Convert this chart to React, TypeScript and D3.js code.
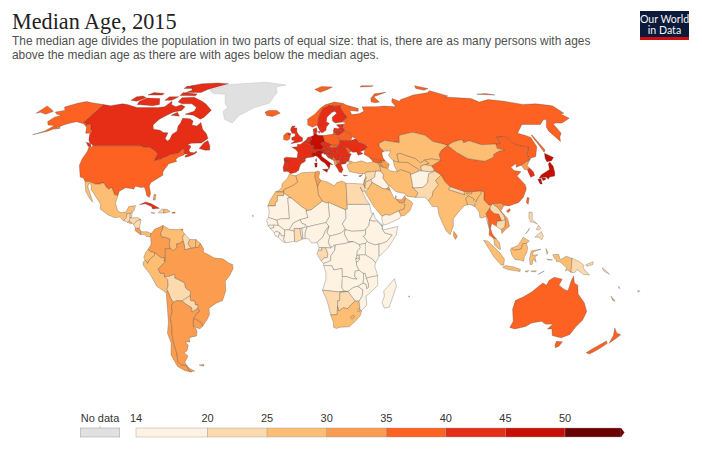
import * as React from 'react';
import * as d3 from 'd3';

// each entry: name, median age (null = no data), outline rings as "lon,lat lon,lat ..."
type Country = [string, number | null, string[]];

const northAmerica: Country[] = [
  ['Canada', 40.6, [
    '-141,69.6 -135,69 -128,70 -124,69.7 -115,68 -108,68 -100,68 -96,68.5 -94,71.5 -92,69.5 -88,68.5 -85,69.5 -81.5,68.5 -82,66.5 -87,65.5 -90,63.8 -93,62 -94.5,59 -92.5,57 -88,56.5 -85,55.3 -82,55.2 -82,52.5 -80,51.3 -79,52 -79,54.5 -77,56 -78,58.5 -77.5,60 -78,62.4 -73,62.2 -70,61 -69.5,59 -66,58.5 -64.5,60.3 -61.5,57 -58,54.8 -56,52.5 -59,50.3 -65,50.2 -67,49.5 -65,49 -64.5,48.5 -65,47 -64,46 -61.5,45.8 -60.5,46.5 -60,46 -61,45.2 -64,44 -66,43.7 -66,44.5 -64.5,45.3 -67,45.1 -67.8,47 -69,47.4 -70.5,45.5 -74.7,45 -76.5,44 -79,43.3 -79,42.8 -83,42 -82.5,45.3 -84.5,46.5 -88.5,48.2 -92,48.3 -95,49 -123,49 -123,49.3 -126,50.5 -128,52 -130,54.5 -130,55.8 -132,57 -135,59.5 -137.5,59 -139,60 -141,60.3',
    '-123.5,48.4 -125.5,48.8 -128.3,50.7 -125,50',
    '-59.3,47.7 -55.5,46.9 -52.8,47 -53.5,49 -55.6,51.5 -57.5,50.5',
    '-61.5,66.6 -64,63 -66,62 -72,64 -78,64.5 -73,66 -73,68 -78,70 -85,70 -89,71 -89,73.5 -80,73.7 -72,71.5 -68,70',
    '-117,69.7 -105,69 -101,69.7 -105,73 -115,73.3 -118,71.5',
    '-125,72 -120,71.5 -116,73.5 -120,74.5 -124,74',
    '-90,76.5 -78,76.5 -75,78.5 -65,81.5 -62,82.5 -72,83.1 -85,82.5 -92,81 -87,78',
    '-92,74.7 -80,74.6 -80,75.7 -92,76.5',
    '-117,75 -106,75 -106,76 -115,76.5',
    '-100,72 -95,72 -92,74 -99,74',
    '-95,79 -88,79 -90,81 -95,80.5',
    '-87,64 -81,63.5 -84,65.5',
  ]],
  ['United States', 37.6, [
    '-123,49 -95,49 -92,48.3 -88.5,48.2 -84.5,46.5 -82.5,45.3 -83,42 -79,42.8 -79,43.3 -76.5,44 -74.7,45 -70.5,45.5 -69,47.4 -67.8,47 -67,45.1 -67,44.7 -70,43.7 -70.8,42.5 -70,41.7 -74,40.7 -75.5,38 -76,36.9 -75.5,35.3 -78,33.9 -81,32 -81.5,30.5 -80,27 -80.3,25.2 -81.8,26 -82.8,28 -84,30 -85.5,29.7 -89,30.3 -89.5,29 -91,29.3 -94,29.6 -97,28 -97.2,26 -99.2,26.5 -101.5,29.8 -103,29 -104.7,30 -106.5,31.8 -108.2,31.8 -108.2,31.3 -111,31.3 -114.8,32.5 -117.1,32.5 -118.5,34 -120.6,34.5 -122,36.8 -124,40 -124.5,43 -124,46.3 -124.7,48.4 -123,48.2',
    '-141,69.6 -141,60.3 -139,60 -137.5,59 -135,59.5 -132,57 -130,55.8 -130,55 -133,55 -136,58 -140,59.7 -146,60.7 -149,60 -152,59 -154,58 -158,56 -163,54.7 -165,54.3 -160,56 -157.5,58.8 -162,59 -165,60.8 -164,63 -161,64 -165,64.5 -168,65.6 -163,66.5 -166.5,68.3 -161,70.3 -156.5,71.3 -150,70.5',
    '-155,57 -152,57.4 -153,58',
  ]],
  ['Mexico', 27.4, ['-117.1,32.5 -114.8,32.5 -111,31.3 -108.2,31.3 -108.2,31.8 -106.5,31.8 -104.7,30 -103,29 -101.5,29.8 -99.2,26.5 -97.2,26 -97.8,22.5 -96,19 -94,18.2 -91.5,18.6 -90.5,21 -87,21.5 -87.5,19 -88.3,18.5 -89,17.9 -91,17.8 -91,16 -92.2,14.5 -94.5,16.2 -97,15.9 -101,17.3 -105.5,20 -105.5,22 -109,25.6 -112.5,29 -113,31 -114.7,31.7 -114.5,30 -111,25 -110,23 -112,24.7 -115,28']],
  ['Guatemala', 21, ['-92.2,14.5 -91,16 -91,17.8 -89.2,17.8 -89,15.9 -88.3,15.7 -89.3,14.4 -90.2,13.8']],
  ['Belize', 23, ['-89.2,17.9 -88.3,18.4 -88.2,16 -89.2,15.9']],
  ['Honduras', 23, ['-89,15.9 -88,15.8 -85,16 -83.2,15 -84.8,14.8 -87,13 -87.8,13.4 -89.3,14.4']],
  ['El Salvador', 26, ['-90.2,13.8 -89.3,14.4 -87.8,13.4 -88.5,13.2']],
  ['Nicaragua', 24, ['-87,13 -84.8,14.8 -83.2,15 -83.7,11 -85.7,11.1']],
  ['Costa Rica', 31, ['-85.7,11.1 -83.7,11 -82.6,9.5 -83,8.2 -85.8,10']],
  ['Panama', 29, ['-83,8.2 -82.6,9.5 -79.5,9.5 -77.4,8.7 -77.9,7.2 -80,7.3 -80.5,8.2']],
  ['Cuba', 41, ['-85,21.9 -82,23.1 -79,22.4 -74.2,20.2 -77.7,19.9 -78.5,21 -82,22.3']],
  ['Haiti', 23, ['-74.4,18.4 -72.9,19.9 -71.7,19.8 -71.7,18.1 -74.4,18.1']],
  ['Dominican Republic', 26, ['-71.7,19.8 -69.9,19.7 -68.4,18.6 -70.5,18.2 -71.7,18']],
  ['Jamaica', 29, ['-78.3,18.4 -76.3,18.1 -77,17.8 -78.3,18.2']],
  ['Puerto Rico', 37, ['-67.2,18.4 -65.7,18.4 -65.7,18 -67.2,18']],
  ['Bahamas', 32, ['-78,26.5 -77,26.5 -77,24 -78,24']],
  ['Trinidad', 34, ['-61.9,10.7 -61,10.7 -61,10.1 -61.9,10.1']],
  ['Greenland', null, ['-73,78.2 -68,76 -58,75.5 -54,70 -51,68 -53,66 -50,62 -44,60 -41,64 -32,68 -22,70.5 -20,74 -18,76.5 -20,80 -12,81.5 -30,83.6 -50,82.5 -62,81.8']],
];

const southAmerica: Country[] = [
  ['Colombia', 30.5, ['-77.4,8.7 -75.6,10.7 -74,11.3 -71.5,12.4 -71.3,11 -72.5,9 -72,7.2 -70,7 -67.5,6.2 -67.8,3.7 -67.2,1.8 -69.8,1.7 -69.9,-4.2 -70.7,-3.8 -70,-2.5 -72,-2.4 -75.3,-0.1 -77.5,0.4 -78.8,1.4 -77.2,3.8 -77.5,6.5 -77.9,7.2']],
  ['Venezuela', 27.4, ['-71.5,12.4 -69.8,11.5 -68,10.6 -64,10.5 -62,10.7 -60,8.5 -61,7 -60.6,5.2 -62.8,4 -64,4 -63.7,2.3 -65.5,0.8 -67.2,1.8 -67.8,3.7 -67.5,6.2 -70,7 -72,7.2 -72.5,9 -71.3,11']],
  ['Guyana', 24.7, ['-60,8.5 -57.2,6 -58,4 -56.5,1.9 -59.8,1.3 -59.9,3 -60.6,5.2 -61,7']],
  ['Suriname', 29, ['-57.2,6 -54,5.9 -54.2,2.3 -56.5,1.9 -58,4']],
  ['French Guiana', 25.5, ['-54,5.9 -51.7,4.2 -52.7,2.3 -54.2,2.3']],
  ['Ecuador', 27, ['-78.8,1.4 -77.5,0.4 -75.3,-0.1 -75.5,-1.5 -78.3,-3.4 -79,-5 -80.3,-3.4 -81,-2.2 -80,0']],
  ['Peru', 27.5, ['-75.3,-0.1 -72,-2.4 -70,-2.5 -70.7,-3.8 -69.9,-4.2 -73,-7 -73.7,-7.5 -72.7,-9.5 -70.6,-9.5 -70.6,-11 -69,-12.5 -69,-15 -69.8,-17 -69.5,-17.6 -70.4,-18.4 -75,-15.5 -78,-10 -81.3,-6 -81.3,-4.3 -80.3,-3.4 -79,-5 -78.3,-3.4 -75.5,-1.5']],
  ['Brazil', 31.3, ['-51.7,4.2 -50,1.8 -50,0 -48,-0.7 -44.5,-2.5 -40,-2.9 -37,-4.8 -35,-5.5 -34.8,-7.5 -37,-11 -39,-13 -39,-17.5 -41,-22 -44.5,-23.2 -48.5,-25.5 -48.7,-28.5 -50.5,-31 -53.4,-33.8 -53.2,-32.7 -55.7,-30.9 -57.6,-30.2 -55,-27.5 -53.7,-26.9 -54.6,-25.6 -54.3,-24 -55.5,-24 -55.8,-22.3 -58,-22 -58,-19.8 -57.5,-18 -60,-16.3 -60.5,-13.8 -65.3,-11.7 -65.3,-10 -68.5,-11 -70.6,-11 -70.6,-9.5 -72.7,-9.5 -73.7,-7.5 -73,-7 -69.9,-4.2 -69.8,1.7 -67.2,1.8 -65.5,0.8 -63.7,2.3 -64,4 -62.8,4 -60.6,5.2 -59.9,3 -59.8,1.3 -56.5,1.9 -54.2,2.3 -52.7,2.3']],
  ['Bolivia', 24, ['-68.5,-11 -65.3,-10 -65.3,-11.7 -60.5,-13.8 -60,-16.3 -57.5,-18 -58,-19.8 -62.6,-22.2 -65,-22 -67.2,-22.8 -68.3,-21 -69.5,-17.6 -69.8,-17 -69,-15 -69,-12.5 -70.6,-11']],
  ['Paraguay', 24.5, ['-58,-19.8 -58,-22 -55.8,-22.3 -55.5,-24 -54.3,-24 -54.6,-25.6 -58,-27.3 -57.7,-25.3 -60,-24 -62.6,-22.2']],
  ['Uruguay', 34.8, ['-57.6,-30.2 -55.7,-30.9 -53.2,-32.7 -53.4,-33.8 -54.9,-34.9 -58.4,-34 -58.1,-32']],
  ['Chile', 33.8, ['-69.5,-17.6 -68.3,-21 -67.2,-22.8 -68.5,-24.5 -68.3,-27 -70,-30 -70.2,-34 -71,-37 -71.4,-40 -71.7,-43 -71.7,-46 -72.3,-48 -73,-50 -72,-51.5 -68.5,-52.3 -68.6,-54.9 -67,-55 -71,-54.5 -74.5,-52.5 -75.5,-47 -73,-41.5 -73.5,-37 -71.5,-32 -70.4,-18.4']],
  ['Argentina', 31, [
    '-65,-22 -62.6,-22.2 -60,-24 -57.7,-25.3 -58,-27.3 -54.6,-25.6 -53.7,-26.9 -55,-27.5 -57.6,-30.2 -58.1,-32 -58.4,-34 -57,-35 -57,-36.5 -57.7,-38.2 -62,-39 -62.3,-41 -65,-41 -63.7,-42.5 -65.3,-45 -67.5,-46 -65.8,-47.5 -69,-50.5 -68.5,-52.3 -72,-51.5 -73,-50 -72.3,-48 -71.7,-46 -71.7,-43 -71.4,-40 -71,-37 -70.2,-34 -70,-30 -68.3,-27 -68.5,-24.5 -67.2,-22.8',
    '-68.6,-52.7 -68.6,-54.9 -65.2,-54.7',
  ]],
  ['Falkland Islands', 33, ['-61,-51.8 -58,-51.5 -58.5,-52.3']],
];

const europe: Country[] = [
  ['Iceland', 36, ['-24,65.5 -22,66.4 -16,66.5 -13.5,65 -18.5,63.4 -22.5,63.9']],
  ['United Kingdom', 40, [
    '-5.5,50 -1,50.7 1.4,51.2 1.7,52.7 0,53.5 -1.5,55 -2,56 -2,57.6 -4,57.7 -3,58.6 -5,58.6 -6,56.8 -5,55 -3,54.9 -3,53.5 -5,53 -5,51.8 -3,51.4',
    '-7.3,55.2 -5.6,54.7 -6,54.1 -7.5,54.2',
  ]],
  ['Ireland', 36.8, ['-7.3,55.2 -8.5,55.1 -10,54 -10,52 -8,51.5 -6.2,52.2 -6,54.1 -7.5,54.2']],
  ['France', 41, ['2.5,51 4.2,50 6,49.5 8.2,49 7.6,47.6 6,46.4 7,45.8 7,44.2 7.5,43.8 4,43.4 3,43 3,42.5 -1.7,43.3 -1.2,46 -2.5,47.3 -4.8,48.3 -1.6,48.6 -1.5,49.7 0.2,49.6', '8.6,42.4 9.5,43 9.4,41.5']],
  ['Spain', 43, ['-1.7,43.3 3,42.5 3,41.8 0.5,40.5 -0.3,39 -0.7,37.7 -2.2,36.7 -5.3,36.1 -6.4,37 -7.4,37.2 -7,39 -7,41 -6.5,41.9 -9,41.9 -9.2,43.1 -8,43.7']],
  ['Portugal', 44, ['-7.4,37.2 -9,37 -9.5,38.8 -8.8,41 -8.8,41.9 -6.5,41.9 -7,41 -7,39']],
  ['Belgium', 41, ['2.5,51 3.4,51.4 6,50.8 6.2,49.6 4.2,50']],
  ['Netherlands', 42, ['3.4,51.4 4.7,53 7,53.4 7,52 6,50.8']],
  ['Germany', 46, ['6,50.8 7,52 7,53.4 8.5,54 8.5,55 10,54.8 11,54 14.2,53.9 14.7,52 15,51 12.2,50.2 13.8,48.7 13,47.5 10,47.4 7.6,47.6 8.2,49 6,49.5 6.2,49.6']],
  ['Denmark', 41.6, ['8.5,55 8.2,57 10.5,57.7 10.8,56 10,54.8', '11,55.7 12.5,56 12.3,55']],
  ['Switzerland', 42, ['6,46.4 7.6,47.6 9.6,47.5 10.4,46.7 9,45.9 7,45.8']],
  ['Austria', 43, ['9.6,47.5 13,47.5 13.8,48.7 15,49 17,48.6 16.3,46.9 13.7,46.5 10.4,46.7']],
  ['Italy', 45.9, [
    '7,45.8 9,45.9 10.4,46.7 13.7,46.5 13.7,45.6 12.3,45.3 12.5,44 16,41.8 18.5,40.2 17,40.4 16.6,39 16,38 15.8,39 14,41 12,42 10.2,43.9 8.8,44.4 7.5,43.8 7,44.2',
    '12.5,38 15.6,38.2 15,36.7',
    '8.3,41 9.7,41 9.5,39.1 8.5,39',
  ]],
  ['Czech Republic', 41.5, ['12.2,50.2 15,51 18.8,49.6 17,48.6 15,49 13.8,48.7']],
  ['Slovakia', 39, ['17,48.6 18.8,49.6 22.5,49.1 22.2,48.4 18.8,47.8']],
  ['Poland', 39.6, ['14.2,53.9 19,54.4 23,54.4 23.9,52.2 24,50.6 22.7,49.2 18.8,49.6 15,51 14.7,52']],
  ['Hungary', 41, ['16.3,46.9 17,48.6 18.8,47.8 22.2,48.4 22.9,48 21,46.2 18.8,45.9 16.6,46.5']],
  ['Slovenia', 43, ['13.7,46.5 16.3,46.9 16.6,46.5 15.5,45.7 13.7,45.5']],
  ['Croatia', 43, ['13.7,45.5 15.5,45.7 16.6,46.5 18.8,45.9 19,45 16,45.2 15.8,44.5 18.5,42.5 16,43.5 14.8,45 14,45']],
  ['Bosnia', 41.5, ['16,45.2 19,45 19.4,44 18.5,42.7 15.8,44.5']],
  ['Serbia', 40.6, ['18.8,45.9 21,46.2 22.5,44.5 22.4,42.3 20.5,42.3 19.4,43.5 19.4,44 19,45']],
  ['Montenegro', 38, ['18.5,42.7 19.4,43.5 20.3,42.7 19.3,41.9']],
  ['Albania', 34.3, ['19.3,41.9 20.3,42.7 20.6,41 21,40 19.9,39.7 19.4,40.5']],
  ['Macedonia', 37.5, ['20.5,42.3 22.4,42.3 23,41.3 20.9,41']],
  ['Greece', 44, ['20,39.6 21,40.8 23,41.3 26.3,41.7 26,40.8 23,40.3 24,38 23,36.5 21.7,36.8 21,38.3', '23.6,35.5 26.2,35.2 24.5,35']],
  ['Bulgaria', 43.5, ['22.4,42.3 22.5,44.2 25,43.7 28.5,43.7 27.8,42 26.3,41.7 23,41.3']],
  ['Romania', 41.7, ['21,46.2 22.9,48 25,47.9 26.7,48.3 28.2,45.6 29.7,45.2 28.5,43.7 25,43.7 22.5,44.2']],
  ['Moldova', 35.8, ['26.7,48.3 28,48.2 30,46.5 28.2,45.6']],
  ['Ukraine', 40.3, ['22.7,49.2 22.2,48.4 22.9,48 25,47.9 26.7,48.3 28,48.2 30,46.5 30.7,46 33,46.1 33.5,44.6 36.5,45.3 35,46.2 38,47.1 40,48.5 38,50 35.5,50.5 34,52.3 30.7,51.5 24,51.6 24,50.6']],
  ['Belarus', 39.6, ['24,51.6 30.7,51.5 32,53.3 31,55 28,56.1 26.5,55.5 23.5,53.9 23.9,52.2']],
  ['Lithuania', 42.7, ['21,55.3 21,56.4 25,56.3 26.5,55.5 23.5,53.9 23,54.4']],
  ['Latvia', 42, ['21,56.4 21.7,57.6 24.4,57.2 25,58 27.7,57.5 28,56.1 26.5,55.5 25,56.3']],
  ['Estonia', 41.7, ['23.5,59.2 28,59.4 27.4,57.6 25,58 24.4,58.2']],
  ['Norway', 39, ['5,59 5,62 10,64.5 14,67.5 18,69.5 25,71 31,70.3 29,69 25,68.7 20.5,69 16,67.5 14,65 12,62 12,60.5 11,59 8,58', '12,78.5 16,76.7 22,78.3 27,80 18,80.3']],
  ['Sweden', 41, ['11,59 12,60.5 12,62 14,65 16,67.5 20.5,69 23.7,67.9 24,66 22,65.5 18,63 17.2,60.7 19,59.8 16.7,58 16.4,56.5 14.2,55.4 13,55.4 11.5,58']],
  ['Finland', 42.5, ['20.5,69 25,68.7 29,69 28.5,68 30,65 31.5,62.9 27.5,60.5 23,60 21.3,61 21.5,63 25,65 24,66 23.7,67.9']],
  ['Russia', 38.7, [
    '31,70.3 33,69.4 41,67.5 40,66 34.5,66.5 35,64.3 40,64.7 44,66 44,68.4 54,68.5 60,68.8 68,68.5 67,71 69,73 73,71.5 75,72.5 80,73.5 87,75 100,76.4 104,77.7 113,74.5 110,73.9 128,73 131,71 140,72.5 150,71.5 160,69.7 170,70 178,69.2 180,68.9 180,65 177,64.7 179,62.5 170,60 166,60 163.5,59.5 163,57.5 162,55 159,53.2 156.7,51 155.7,56 157,58 163,62 160,61.5 155,59.3 143,59.3 135,55 138.5,54 141,53 140,48.5 135.5,44 132,43.2 130.7,42.3 130.7,43 131.3,45 135,48.5 130.6,48.9 127.5,50 126,53 120.5,53.3 119.7,50 116.7,49.8 108,49.5 102,51.4 98,50.4 98,52 92,50.8 87.8,49.2 85,50 80,51 77,54 71,55.3 69,55.3 61,54 59.5,50.5 55,51 51,51.5 47,50 47,48.3 49,46.5 47.5,45.7 47.5,43.5 48.5,41.8 46,42 40,43.4 37,45 38,47.1 40,48.5 38,50 35.5,50.5 34,52.3 32,53.3 31,55 28,56.1 27.7,57.5 28,59.4 30,60 27.8,60.5 31.5,62.9 30,65 28.5,68 29,69',
    '-180,68.9 -175,67.5 -170,66 -172.5,64.5 -178,65.5 -180,65',
    '20,54.4 23,54.4 21,55.3',
    '52,71 55,70.7 58,71 56,74 68,76.8 58,75.8 53,73',
    '142,46 143.5,47 143,50 143,54 142.3,54 142,50',
    '95,79 100,78 105,79 97,81',
    '137,75.5 150,75 145,76',
    '50,80 60,80.3 62,81 52,81',
  ]],
  ['Cyprus', 36, ['32.3,35 34.6,35.7 33,34.6']],
];

const asia: Country[] = [
  ['Georgia', 37, ['40,43.4 46,42 46.5,41.1 43.5,41.1 41.5,41.5']],
  ['Armenia', 33, ['43.5,41.1 45,41.2 46.5,39 44.8,39.7']],
  ['Azerbaijan', 30.9, ['46,42 48.5,41.8 50.3,40.4 49,38.4 46.5,39 45,41.2 46.5,41.1']],
  ['Turkey', 29.8, ['26.3,41.7 28,42 31,41.2 35,42 38,41 41.5,41.5 43.5,41.1 44.8,39.7 44.8,37.2 42,37.2 36.7,36.8 36,36.2 33,36.1 30.5,36.5 27.5,37 26.3,39.5 26.7,40.4 29,41']],
  ['Syria', 20.5, ['36,36.2 36.7,36.8 42,37.2 41,34.5 38.8,33.4 36.5,32.4 35.8,33.3 36,34.6']],
  ['Lebanon', 28, ['35.1,33.1 35.8,33.3 36.5,34.5 36,34.6']],
  ['Israel', 30, ['34.3,31.3 35,29.5 35.5,31.5 35.6,33.2 35.1,33.1']],
  ['Jordan', 22, ['35,29.5 36.9,29.2 39,32 38.8,33.4 36.5,32.4 35.5,32.4 35.5,31.5']],
  ['Iraq', 19.5, ['42,37.2 44.8,37.2 46,35.8 45.5,34 48,30.5 48,30 46.5,29.1 44.7,29.2 39.2,32.1 38.8,33.4 41,34.5']],
  ['Iran', 29.5, ['44.8,39.7 46.5,39 49,38.4 50,37.4 54,37 56,38 61,36.5 61,31.5 60.8,29.8 63.3,27.2 61.6,25.2 57,25.8 56,27 51.5,27.8 48.8,30.3 48,30.5 45.5,34 46,35.8 44.8,37.2']],
  ['Saudi Arabia', 28, ['36.9,29.2 34.6,28 39,21 43,16.5 45,17.4 47,17 52,19 55,20 55.6,22 52.6,22.9 51.3,24.6 50,25 48.5,28.5 46.5,29.1 44.7,29.2 39.2,32.1']],
  ['Kuwait', 33, ['46.5,29.1 48.5,28.5 48,30']],
  ['Qatar', 31, ['50.8,24.8 51.5,25.5 51,26.1']],
  ['United Arab Emirates', 33, ['51.3,24.3 54,24.1 56,26 56.3,24.9 55.2,22.7 52.6,22.9']],
  ['Oman', 29, ['55.2,22.7 56.3,24.9 58.7,23.6 59.8,22.5 57.8,19 55,17 53,16.7 52,19 55,20 55.6,22']],
  ['Yemen', 19, ['43,16.5 42.8,15 43.5,12.7 45,12.8 52,15.5 53,16.7 52,19 47,17 45,17.4']],
  ['Kazakhstan', 29.3, ['47,50 51,51.5 55,51 59.5,50.5 61,54 69,55.3 71,55.3 77,54 80,51 85,50 87.8,49.2 83,47 80.5,45 80.2,42.2 75,42.9 71,42.3 68,41 66,43 61,44.4 58,45.5 56,45 56,41.3 53,42 51,44.5 53,46.6 49,46.5 47,48.3']],
  ['Uzbekistan', 25.5, ['56,45 58,45.5 61,44.4 66,43 68,41 71,42.3 73,40.8 70.5,40.2 67.7,39.5 67.5,37.3 64.5,39 61,41.2 56,41.3']],
  ['Turkmenistan', 25.6, ['53,42 56,41.3 61,41.2 64.5,39 66.5,37.4 61,35.6 61,36.5 56,38 54,37 53,39.5']],
  ['Kyrgyzstan', 25.2, ['71,42.3 75,42.9 80.2,42.2 74,39.6 70.5,40.2 73,40.8']],
  ['Tajikistan', 22, ['67.7,39.5 70.5,40.2 74,39.6 75,37.3 71.5,37 67.5,37.3']],
  ['Afghanistan', 17.5, ['61,35.6 66.5,37.4 67.5,37.3 71.5,37 75,37.3 71,36 70,33.5 69.3,31.8 66.3,29.8 61,29.5 60.8,29.8 61,31.5']],
  ['Pakistan', 22, ['61.6,25.2 63.3,27.2 60.8,29.8 61,29.5 66.3,29.8 69.3,31.8 70,33.5 71,36 75,37.3 77.8,35.5 74,33 75,31 71.5,28 70.5,25.7 68.2,23.7 66.5,25.3']],
  ['India', 26.6, ['68.2,23.7 70.5,25.7 71.5,28 75,31 74,33 77.8,35.5 79,32.5 81,30.2 80,28.8 88,26.5 88,28 92,27.8 97.3,28.3 97,27 94.7,25 93.3,23 92.5,24.5 89.8,26 88.2,24.5 88.9,21.8 87,21.4 84,19 80.3,15.5 80,12 78,8.1 76,10 73,17 72.7,21 70,21 69,22.4']],
  ['Nepal', 23, ['80,28.8 81,30.2 88,28 88,26.5']],
  ['Bhutan', 26, ['89,27.3 92,27.8 92,26.9 89,26.8']],
  ['Bangladesh', 25.6, ['88.2,24.5 89.8,26 92.5,24.5 92.4,21 90,22 88.9,21.8']],
  ['Sri Lanka', 32, ['80,9.7 81.8,7.5 80.7,6 79.8,7.5']],
  ['China', 37, [
    '74,39.6 80.2,42.2 80.5,45 83,47 87.8,49.2 91,46 96,43 105,41.8 111,43.7 112,45 116,46.5 119.7,47 116,47.8 116.7,49.8 119.7,50 120.5,53.3 126,53 127.5,50 130.6,48.9 135,48.5 131.3,45 130.7,43 130.7,42.3 128,41.5 124.4,40 121,39 122,40.8 118,39 119,37.5 122.5,37 119.3,35 122,31 121.8,29 119,25.3 116,22.9 110.5,21.3 108,21.6 106.6,22.5 102,22.4 101.2,21.5 99.5,22 97.7,24 98.7,27.5 97.3,28.3 92,27.8 88,28 81,30.2 79,32.5 77.8,35.5 75,37.3',
    '108.7,19 110.5,20 111,19.5 109.5,18.2',
  ]],
  ['Mongolia', 27.5, ['87.8,49.2 92,50.8 98,52 98,50.4 102,51.4 108,49.5 116.7,49.8 116,47.8 119.7,47 116,46.5 112,45 111,43.7 105,41.8 96,43 91,46']],
  ['North Korea', 33.9, ['124.4,40 128,41.5 130.7,42.3 127.5,39.7 128.4,38.6 126.7,37.9 125,38']],
  ['South Korea', 40.8, ['126.7,37.9 128.4,38.6 129.4,37 129,35.2 126.5,34.4 126.5,37']],
  ['Japan', 46.5, [
    '130.9,34 133,35.6 136.5,37 139,38 140,40.5 141.5,41.4 142,39.5 141,36.5 140,35 137,34.6 135.8,33.5 135,34.6',
    '130,33.5 131.8,33.8 131.4,31.4 130.2,31.3',
    '132.3,34 134.6,34.2 134,33.3 132.5,32.9',
    '140,41.6 140.3,43.3 141.8,45.5 145.3,43.5 143,42',
  ]],
  ['Taiwan', 39, ['121,25.2 122,25 120.8,22 120.1,23']],
  ['Myanmar', 27, ['92.5,21 93.3,23 94.7,25 97,27 97.3,28.3 98.7,27.5 97.7,24 99.5,22 101.2,21.5 100.2,20.3 97.8,17.7 98.7,15 98.7,10.5 98,13.5 97.5,16.5 95.5,15.8 94.3,16 94.3,18.5']],
  ['Thailand', 38, ['100.2,20.3 100.5,19.5 102,18 104.5,17.5 105.5,14.5 103,14.3 102.5,12 101,12.8 100.2,13.4 99.3,11 100,8.5 102,6.2 100.5,6.5 98.3,8 98.7,10.5 98.7,15 97.8,17.7']],
  ['Laos', 22, ['101.2,21.5 102,22.4 104.5,20.5 107,17 107.5,15 105.5,14.5 104.5,17.5 102,18 100.5,19.5 100.2,20.3']],
  ['Vietnam', 30.4, ['102,22.4 106.6,22.5 108,21.6 105.8,19 108.8,15.5 109.3,12 107,10.5 105,8.7 104.8,10.5 106.8,11.7 107.5,15 107,17 104.5,20.5']],
  ['Cambodia', 24, ['103,14.3 105.5,14.5 107.5,15 106.8,11.7 104.8,10.5 102.7,11.7 102.5,12']],
  ['Malaysia', 28, ['100.5,6.5 102,6.2 103.4,4.5 104,1.4 103.3,1.5 101,3.3', '109.6,2 111.3,2.6 113,3.2 116,7 119,5.2 117.5,4.2 115.5,4 114.7,1.6 111,1']],
  ['Indonesia', 28, [
    '109,1 109.6,2 111,1 114.7,1.6 115.5,4 117.5,4.2 118,2 117.5,0 116.3,-2 116,-4 114.5,-3.5 111.5,-3.2 110,-1.5',
    '95.3,5.6 97.5,5.2 103.5,0 106,-3 105.8,-5.8 104.5,-5.8 100.5,-2',
    '105.2,-6.8 106.8,-6 111,-6.6 114.5,-7.7 114.4,-8.7 108,-7.8',
    '119.8,0.7 124.8,1.5 121,0.4 120.5,-1.2 123.3,-1 121.8,-2 122.5,-4.5 121,-3 120.4,-5.5 119.5,-5.5 119,-3',
    '124,-10 127,-8.4 125,-9.5',
    '120,-8.5 123,-8.4 122,-8.9',
    '117,-8.5 119,-8.3 118,-9',
    '127.5,1.8 128.5,0 128,-0.8',
    '128,-3 131,-3.4 129,-3.5',
    '131,-1 134,-0.8 135,-3.3 138,-1.7 141,-2.6 141,-9.1 139,-8 138,-8.4 138.5,-7 135,-4.4 132.8,-4 133,-3 132,-2.8',
  ]],
  ['Philippines', 24, [
    '120.5,18.5 122.2,18.4 121.5,15 124,13 122,13.8 120.5,14 120,16',
    '122,7 125.5,9.6 126.5,7.5 125.5,5.8 124,7',
    '117.2,8.4 119.5,11 119,10',
    '124.5,12.5 125.5,11 124.5,10.2 123,10.5',
  ]],
];

const africa: Country[] = [
  ['Morocco', 28, ['-5.9,35.8 -2.2,35.1 -1.7,33.5 -1.2,32.2 -3.7,30.7 -8.7,28.7 -8.7,27.7 -13.2,27.7 -11.5,28.3 -9.8,29.8 -9.8,31.5 -7,33.8']],
  ['Western Sahara', 26, ['-13.2,27.7 -8.7,27.7 -8.7,26 -12,26 -12,23.4 -13,23 -13,21.3 -17,21.3 -16,23.7 -14.8,25.5']],
  ['Mauritania', 19.8, ['-17,21.3 -13,21.3 -13,23 -12,23.4 -12,26 -8.7,26 -8.7,27.3 -4.8,25 -6.5,25 -5.5,15.5 -10,15.4 -12.2,14.8 -16.5,16 -16.2,19']],
  ['Algeria', 27.7, ['-2.2,35.1 1,36.5 8.6,36.9 8.2,34.7 9.5,30 9.9,26.5 11.9,23.5 5.8,19.5 3.2,19 3.2,19.8 1.2,20.7 -4.8,25 -8.7,27.3 -8.7,28.7 -3.7,30.7 -1.2,32.2 -1.7,33.5']],
  ['Tunisia', 31, ['8.6,36.9 10,37.3 11,36.9 10.2,34.3 11.5,33 10.2,31.5 9.5,30 8.2,34.7']],
  ['Libya', 27.9, ['11.5,33 15,32.3 18.5,30.5 20,32 23,32.7 25,31.7 25,20 24,20 24,19.5 15,23 14,22.6 11.9,23.5 9.9,26.5 9.5,30 10.2,31.5']],
  ['Egypt', 24.7, ['25,31.7 31,31.5 34.3,31.3 35,29.5 34.3,28 33.5,28 32.5,30 35,24.5 36.9,22 25,22']],
  ['Sudan', 19.5, ['24,15.7 24,19.5 25,20 25,22 36.9,22 37.5,18 38.6,18 36.5,15 36,12.5 34.2,10.5 33,10 27,9.7 23.5,10.5 22.5,12.5 22,13']],
  ['South Sudan', 18.6, ['23.5,10.5 27,9.7 33,10 34.2,10.5 34,8 33,7.5 35,5 33.9,4.2 30.8,3.6 27.5,5 25,5 23,8.5']],
  ['Mali', 16.2, ['-12.2,14.8 -10,15.4 -5.5,15.5 -6.5,25 -4.8,25 1.2,20.7 3.2,19.8 3.2,19 4.2,16 0,15 -3.5,13.5 -5.5,10.4 -8,10.3 -11,12.2']],
  ['Niger', 14.8, ['0,15 4.2,16 3.2,19 5.8,19.5 11.9,23.5 14,22.6 15,23 15.5,16.5 13.6,13.7 9,12.8 3.7,11.7 3,12.7 1,13.3']],
  ['Chad', 16, ['15,23 24,19.5 24,15.7 22,13 22.5,12.5 23.5,10.5 21.5,9 18.8,8.2 15.5,7.5 14,9 15,12 13.6,13.7 15.5,16.5']],
  ['Senegal', 18, ['-17.5,14.7 -16.5,16 -12.2,14.8 -11.5,12.4 -16.7,12.4']],
  ['Guinea-Bissau', 19.4, ['-16.7,12.4 -13.7,12.6 -13.7,11.3 -15.5,11']],
  ['Guinea', 18.5, ['-13.7,12.6 -11.5,12.4 -11,12.2 -8,10.3 -8,7.7 -9.5,7.5 -10.5,9 -12.5,9.8 -13.3,9 -15.5,11 -13.7,11.3']],
  ['Sierra Leone', 18.4, ['-13.3,9 -12.5,9.8 -10.5,9 -11.3,7 -13,7.8']],
  ['Liberia', 18.6, ['-11.3,7 -10.5,9 -9.5,7.5 -8,7.7 -8.5,6 -7.5,4.4 -9.5,5.3']],
  ['Ivory Coast', 18.9, ['-8,10.3 -5.5,10.4 -3,9.8 -2.8,5.1 -7.5,4.4 -8.5,6 -8,7.7']],
  ['Burkina Faso', 17, ['-5.5,10.4 -3.5,13.5 0,15 1,13.3 3,12.7 2.3,11.5 0,11 -3,11 -3,9.8']],
  ['Ghana', 20.6, ['-3,11 0,11 0.5,8 1.2,6.1 -2,4.8 -2.8,5.1 -3,9.8']],
  ['Togo', 19, ['0,11 1,11 1.6,6.2 1.2,6.1 0.5,8']],
  ['Benin', 18.6, ['1,11 2.3,11.5 3.7,11.7 2.7,9 2.7,6.3 1.6,6.2']],
  ['Nigeria', 17.9, ['2.7,6.3 2.7,9 3.7,11.7 9,12.8 13.6,13.7 15,12 13.3,10 11.8,7 8.8,4.6 6,4.3 4.5,6.3']],
  ['Cameroon', 18.4, ['8.8,4.6 11.8,7 13.3,10 15,12 14,9 15.5,7.5 14.7,4.6 16,2 14,2.2 9.9,2.2']],
  ['Central African Republic', 19.7, ['15.5,7.5 18.8,8.2 21.5,9 23.5,10.5 23,8.5 25,5 27.5,5 22.5,4 18.5,3.5 16,2.5 14.7,4.6']],
  ['Equatorial Guinea', 19.6, ['9.9,2.2 11.3,2.2 11.3,1 9.5,1']],
  ['Gabon', 22, ['9.5,1 11.3,1 11.3,2.2 13.3,2.2 14.5,-0.5 14.2,-2.3 12.5,-2.5 11,-3.9 8.8,-0.7']],
  ['Congo', 18.9, ['13.3,2.2 14,2.2 16,2 18,3.5 18,1 16,-1.5 15.9,-3.7 14,-4.5 12.2,-5 11,-3.9 12.5,-2.5 14.2,-2.3 14.5,-0.5']],
  ['DR Congo', 16.9, ['18.5,3.5 22.5,4 27.5,5 30.8,3.6 31.3,2.2 29.7,0.6 29.5,-1.4 29,-2.8 29.3,-4.5 29.5,-6 30.8,-8.2 28.7,-8.5 28.5,-11 29.8,-12.2 27.5,-12 24,-11 22,-11 21.8,-7.3 17.5,-8 16.5,-6 12.3,-6 12.2,-5 14,-4.5 15.9,-3.7 16,-1.5 18,1']],
  ['Angola', 16.1, ['12.3,-6 16.5,-6 17.5,-8 21.8,-7.3 22,-11 24,-11 22,-13 22,-16.3 23.4,-17.6 20,-18 13.8,-17.4 11.8,-17.3 13.5,-12.5 13.5,-9.5']],
  ['Zambia', 16.9, ['22,-11 24,-11 27.5,-12 29.8,-12.2 28.5,-11 28.7,-8.5 30.8,-8.2 33,-9.5 33.2,-11.5 33,-14 30.3,-15.5 28,-16 25.3,-17.8 23.4,-17.6 22,-16.3 22,-13']],
  ['Namibia', 21, ['11.8,-17.3 13.8,-17.4 20,-18 25.3,-17.8 21,-18.3 21,-22 20,-22 20,-28.4 16.5,-28.6 14.5,-22.5']],
  ['Botswana', 24, ['20,-22 21,-22 21,-18.3 25.3,-17.8 29.3,-22.2 27,-24 25.5,-25.7 23,-25.3 20.8,-26.8 20,-24.7']],
  ['Zimbabwe', 18.9, ['25.3,-17.8 28,-16 30.3,-15.5 33,-17 32.8,-20 31.3,-22.3 29.3,-22.2']],
  ['South Africa', 26, ['16.5,-28.6 20,-28.4 20,-24.7 20.8,-26.8 23,-25.3 25.5,-25.7 27,-24 29.3,-22.2 31.3,-22.3 32,-25.9 32.9,-26.9 32.4,-29 30.5,-31 27,-34 22,-34.2 20,-34.8 18.4,-34.2 18.2,-32']],
  ['Lesotho', 26, ['27.2,-29.6 28.8,-28.7 29.4,-29.6 28,-30.5']],
  ['Swaziland', 20.5, ['31,-25.8 32,-26 31.9,-27 31,-27']],
  ['Mozambique', 17.2, ['30.3,-15.5 33,-14 34.6,-14.5 35,-16.5 35.8,-16 35.8,-14.5 34.7,-12 35,-11.5 40.4,-10.5 40.7,-15 36.5,-18.8 34.8,-20 35.5,-24 32.9,-26.5 32.9,-26.9 32,-25.9 31.3,-22.3 32.8,-20 33,-17']],
  ['Malawi', 17, ['33,-14 33.2,-11.5 33,-9.5 34,-9.5 34.7,-12 35.8,-14.5 35.8,-16 35,-16.5 34.6,-14.5']],
  ['Tanzania', 17.3, ['29.3,-4.5 30.7,-3.5 30.7,-2.4 30.5,-1 33.9,-1 37.6,-3 39.2,-4.7 38.8,-6.5 39.5,-8 40.4,-10.5 35,-11.5 34.7,-12 34,-9.5 33,-9.5 30.8,-8.2 29.5,-6']],
  ['Burundi', 17.6, ['29,-2.8 30.7,-2.4 30.7,-3.5 29.3,-4.5']],
  ['Rwanda', 19, ['29.5,-1.4 30.5,-1 30.7,-2.4 29,-2.8']],
  ['Uganda', 15.9, ['29.7,0.6 31.3,2.2 30.8,3.6 33.9,4.2 35,1.8 33.9,-1 30.5,-1 29.5,-1.4']],
  ['Kenya', 18.9, ['33.9,-1 33.9,4.2 35,5 36,4.5 39,3.5 41,4 41,-1.7 39.2,-4.7 37.6,-3']],
  ['Ethiopia', 18.8, ['33,7.5 34,8 34.2,10.5 36,12.5 36.5,15 37.9,14.5 40,14.5 42.4,12.5 43,11.5 42.8,10.9 44,9 48,8 45,5 42,4 41,4 39,3.5 36,4.5 35,5']],
  ['Eritrea', 18.9, ['36.5,15 38.6,18 39.5,15.5 43,12.7 42.4,12.5 40,14.5 37.9,14.5']],
  ['Djibouti', 19.5, ['42.4,12.5 43.3,12.4 43,11.5']],
  ['Somalia', 16.5, ['41,-1.7 41,4 42,4 45,5 48,8 44,9 42.8,10.9 44,10.5 51,11.9 50,8 46,2.5 42,-1']],
  ['Madagascar', 19, ['49.3,-12 50.5,-15.5 47.5,-25 45,-25.5 43.5,-23 44.5,-20 44,-17.5 46,-15.7']],
  ['Cape Verde', 23.5, ['-25,17.1 -24.3,16.7 -24.8,16.4']],
  ['Mauritius', 35.5, ['57.3,-20 57.8,-20 57.6,-20.5']],
];

const oceania: Country[] = [
  ['Australia', 37.5, [
    '114,-22 113.5,-26 115.7,-31.5 115,-34.3 118,-35 123.5,-33.9 126,-32.3 131,-31.5 134,-32.8 137.8,-32.7 136,-35 138.5,-35 140.5,-38 144,-38.7 146.3,-39 150,-37.5 151,-34 153,-31 153.5,-27 150.8,-23 146.5,-19 145.4,-15 143.5,-14 142.5,-10.8 141.6,-13 140.8,-17.5 139,-17 135.5,-15 136.8,-12.2 132.5,-11.3 130,-12.8 129,-15 127,-14 125,-15.5 122,-18 118,-20.3',
    '144.7,-40.7 148.3,-40.9 148,-43 146.5,-43.6 145.3,-42.5',
  ]],
  ['New Zealand', 37.9, [
    '172.7,-34.5 175.5,-36.8 178.4,-37.7 177,-39.5 175.3,-41.6 174.8,-40 174.6,-38',
    '172.7,-40.5 174.3,-41.6 172.7,-43.5 171,-45 169,-46.6 166.5,-46 168,-44.3',
  ]],
  ['Papua New Guinea', 21, [
    '141,-2.6 145,-4.2 147.5,-6 147,-6.8 148,-8 150.8,-10.3 147.5,-10 144,-7.8 143,-9.2 141,-9.1',
    '148.3,-5.6 152,-4.2 152,-5.5 149,-6.3',
  ]],
  ['Solomon Islands', 20, ['157,-7 160,-9 161,-10 158,-8.5']],
  ['Vanuatu', 21, ['167,-15.5 167.8,-16.5 167,-16.2']],
  ['New Caledonia', 32, ['164,-20 167,-22.3 165.5,-21.8']],
  ['Fiji', 27, ['177.3,-17.5 178.6,-17.5 178,-18.2']],
];

const countries = [...northAmerica, ...southAmerica, ...europe, ...asia, ...africa, ...oceania];

// colour legend
const binEdges = [14, 20, 25, 30, 35, 40, 45, 50, 54.7];
const binTicks = [14, 20, 25, 30, 35, 40, 45, 50];
const binColors = ['#fef3e3', '#fdd9ae', '#fdbd72', '#fc9c50', '#fd6222', '#e62e16', '#c70d04', '#6b0000'];
const noDataColor = '#e0e0e0';

const title = 'Median Age, 2015';
const subtitleLines = [
  'The median age divides the population in two parts of equal size: that is, there are as many persons with ages',
  'above the median age as there are with ages below the median ages.',
];

// Robinson table, every 5 degrees of latitude
const robLat = d3.range(0, 95, 5);
const robLen = [1, 0.9986, 0.9954, 0.99, 0.9822, 0.973, 0.96, 0.9427, 0.9216, 0.8962, 0.8679, 0.835, 0.7986, 0.7597, 0.7186, 0.6732, 0.6213, 0.5722, 0.5322];
const robDfe = [0, 0.062, 0.124, 0.186, 0.248, 0.31, 0.372, 0.434, 0.4958, 0.5571, 0.6176, 0.6769, 0.7346, 0.7903, 0.8435, 0.8936, 0.9394, 0.9761, 1];
const lenAt = d3.scaleLinear().domain(robLat).range(robLen);
const dfeAt = d3.scaleLinear().domain(robLat).range(robDfe);

const robinsonRaw = (lambda: number, phi: number): [number, number] => {
  const deg = Math.abs(phi) * 180 / Math.PI;
  return [0.8487 * lenAt(deg) * lambda, 1.3523 * dfeAt(deg) * Math.sign(phi)];
};

const projection = d3.geoProjection(robinsonRaw as any).scale(130.3).translate([300, 252.5]);
const ringPath = d3.line<[number, number]>().curve(d3.curveLinearClosed);

const ringToPath = (ring: string) => {
  const pts = ring.split(' ').map(p => projection(p.split(',').map(Number) as [number, number]) as [number, number]);
  return ringPath(pts) as string;
};

const color = d3.scaleThreshold<number, string>().domain(binEdges.slice(1, -1)).range(binColors);
const legendX = d3.scaleLinear().domain([14, 50]).range([136, 565]);

const App: React.FC = () => {
  const legendY = 428;
  const legendH = 9;
  const lastX = legendX(binEdges[binEdges.length - 1]);
  return (
    <svg width={702} height={459} style={{ position: 'absolute', left: 0, top: 0, background: 'white' }}>
      <defs>
        <filter id="soft" x="-5%" y="-5%" width="110%" height="110%">
          <feGaussianBlur stdDeviation={0.3} />
        </filter>
      </defs>

      <text x={12} y={29} fontFamily="'Liberation Serif', serif" fontSize={22.2} fill="#222">{title}</text>
      {subtitleLines.map((line, i) => (
        <text key={i} x={12} y={45.3 + i * 14} fontFamily="'Liberation Sans', Arial, sans-serif" fontSize={11.9} fill="#4f4f4f">{line}</text>
      ))}

      <g>
        <rect x={640} y={11} width={49} height={29} fill="#0b1a3a" />
        <rect x={640} y={37} width={49} height={3} fill="#ce0f0f" />
        <text x={664.5} y={23} textAnchor="middle" fontFamily="Lato, 'Liberation Sans', sans-serif" fontSize={10.6} fill="#f4f4f4">Our World</text>
        <text x={664.5} y={33.5} textAnchor="middle" fontFamily="Lato, 'Liberation Sans', sans-serif" fontSize={10.6} fill="#f4f4f4">in Data</text>
      </g>

      <g filter="url(#soft)">
        {countries.map(([name, age, rings]) => (
          <path
            key={name}
            d={rings.map(ringToPath).join('')}
            fill={age === null ? noDataColor : color(age)}
            stroke={age === null ? '#c4c4c4' : '#3a3a3a'}
            strokeOpacity={age === null ? 1 : 0.55}
            strokeWidth={0.5}
            strokeLinejoin="round"
          />
        ))}
      </g>

      <g fontFamily="'Liberation Sans', Arial, sans-serif" fontSize={11} fill="#333">
        <rect x={80.3} y={legendY} width={39.4} height={legendH} fill={noDataColor} stroke="#aaa" strokeWidth={0.6} />
        <line x1={100} x2={100} y1={legendY - 2} y2={legendY} stroke="#888" strokeWidth={0.5} />
        <text x={100} y={legendY - 6} textAnchor="middle">No data</text>
        {binColors.map((c, i) => {
          const x0 = legendX(binEdges[i]);
          const x1 = legendX(binEdges[i + 1]);
          return <rect key={c} x={x0} y={legendY} width={x1 - x0} height={legendH} fill={c} stroke="#999" strokeWidth={0.4} />;
        })}
        <path d={`M${lastX},${legendY} L${lastX + 3.5},${legendY + legendH / 2} L${lastX},${legendY + legendH} Z`} fill={binColors[7]} />
        {binTicks.map(t => (
          <text key={t} x={legendX(t)} y={legendY - 6} textAnchor="middle">{t}</text>
        ))}
      </g>
    </svg>
  );
};

export default App;
